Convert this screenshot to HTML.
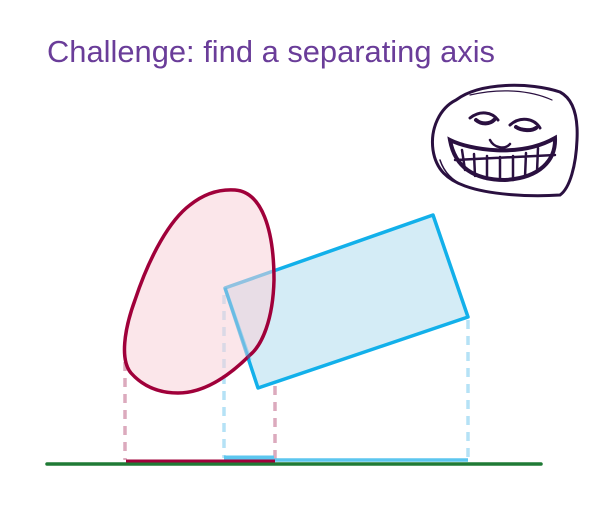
<!DOCTYPE html>
<html><head><meta charset="utf-8">
<style>
html,body{margin:0;padding:0;background:#fff;}
svg{display:block;}
</style></head>
<body>
<svg width="595" height="532" viewBox="0 0 595 532">
  <text x="47" y="62" font-family="'Liberation Sans', sans-serif" font-size="31" fill="#6a3d99" textLength="448" lengthAdjust="spacingAndGlyphs">Challenge: find a separating axis</text>

  <g stroke="#2a1040" fill="none" stroke-linecap="round">
    <path d="M456 100 C480 82,530 82,560 92 C575 100,578 120,577 140 C576 165,570 188,560 195 C530 197,490 195,465 186 C448 180,436 170,433 150 C430 128,440 108,456 100 Z" fill="#fff" stroke-width="3"/>
    <path d="M470 118 C480 110,492 112,498 120" stroke-width="3"/>
    <path d="M476 120 C482 125,490 124,494 120" stroke-width="4"/>
    <path d="M510 125 C520 116,534 118,540 128" stroke-width="3"/>
    <path d="M516 127 C522 131,532 131,536 128" stroke-width="4"/>
    <path d="M490 140 C494 148,505 150,510 144" stroke-width="2.5"/>
    <path d="M450 140 C470 150,520 158,555 138 C556 160,540 178,505 180 C475 180,455 168,450 140 Z" fill="#fff" stroke-width="4"/>
    <path d="M462 150 L465 170 M474 154 L475 176 M487 156 L487 179 M500 157 L500 180 M513 156 L513 180 M526 153 L525 177 M538 148 L537 172 M455 160 L555 155" stroke-width="2.5"/>
    <path d="M440 160 C445 175,455 182,465 186" stroke-width="1.5"/>
    <path d="M470 95 C500 88,530 90,552 100" stroke-width="1.2"/>
  </g>

  <g stroke-width="3.5" stroke-dasharray="9 7">
    <line x1="125" y1="362" x2="125" y2="460" stroke="#dcaabd"/>
    <line x1="275" y1="290" x2="275" y2="460" stroke="#dcaabd"/>
    <line x1="224" y1="295" x2="224" y2="458" stroke="#b5e2f6"/>
    <line x1="468" y1="320" x2="468" y2="460" stroke="#b5e2f6"/>
  </g>

  <polygon points="225,288 433,215 468,317 258,388" fill="#d4ecf6" stroke="#12b0ea" stroke-width="3.5" stroke-linejoin="round"/>

  <path d="M235 190 C262 192,274 230,274 280 C273 320,262 345,250 355 C230 375,205 393,178 393 C155 393,140 383,131 373 C120 360,124 330,135 300 C150 255,170 220,190 205 C205 193,220 189,235 190 Z" fill="#f7d2d9" fill-opacity="0.55" stroke="#a0003a" stroke-width="3.5"/>
  <path d="M225 288 L250 360" stroke="#12b0ea" stroke-opacity="0.3" stroke-width="3.5"/>

  <line x1="47" y1="464" x2="541" y2="464" stroke="#1f7a35" stroke-width="3.5" stroke-linecap="round"/>
  <line x1="224" y1="460" x2="468" y2="460" stroke="#5cc6ef" stroke-width="3.5"/>
  <line x1="224" y1="457" x2="274" y2="457" stroke="#5cc6ef" stroke-width="3"/>
  <line x1="126" y1="461" x2="275" y2="461" stroke="#a0003a" stroke-width="3"/>
</svg>
</body></html>
